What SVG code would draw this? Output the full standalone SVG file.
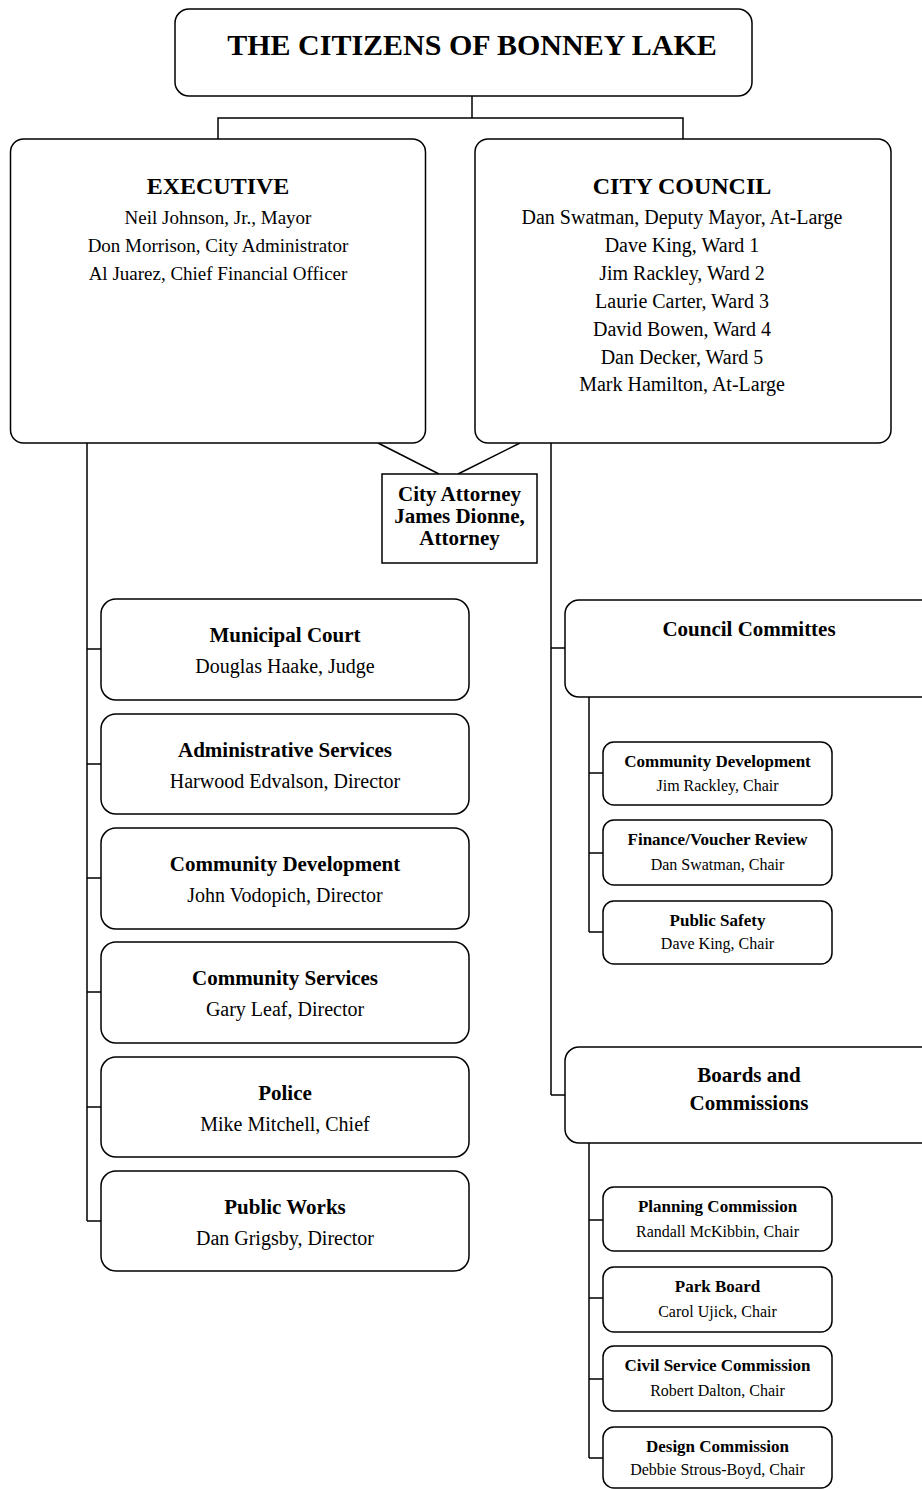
<svg xmlns="http://www.w3.org/2000/svg" width="922" height="1489" viewBox="0 0 922 1489" font-family="'Liberation Serif', 'Times New Roman', serif">
<style>
.box{fill:#fff;stroke:#000;stroke-width:1.5}
.ln{fill:none;stroke:#000;stroke-width:1.5}
text{font-family:"Liberation Serif","Times New Roman",serif;fill:#000;text-anchor:middle;font-weight:normal}
.t0{font-size:30px;font-weight:bold}
.hd{font-size:24px;font-weight:bold}
.ex{font-size:19px}
.cc{font-size:20px}
.dt{font-size:21px;font-weight:bold}
.ds{font-size:20px}
.st{font-size:17px;font-weight:bold}
.ss{font-size:16px}
.at{font-size:21px;font-weight:bold}
</style>
<rect width="922" height="1489" fill="#fff"/>
<g id="connectors">
<path class="ln" d="M472 96V118M218 139V118H683V139"/>
<path class="ln" d="M378 443L439 474M520 443L458 474"/>
<path class="ln" d="M87 443V1221M87 649H101M87 764H101M87 878H101M87 992H101M87 1107H101M87 1221H101"/>
<path class="ln" d="M551 443V1095M551 648H565M551 1095H565"/>
<path class="ln" d="M589 697V932M589 773H603M589 853H603M589 932H603"/>
<path class="ln" d="M589 1143V1458M589 1220H603M589 1298H603M589 1379H603M589 1458H603"/>
</g>
<g id="citizens">
<rect class="box" x="175" y="9" width="577" height="87" rx="14"/>
<text class="t0" x="472" y="55">THE CITIZENS OF BONNEY LAKE</text>
</g>
<g id="executive">
<rect class="box" x="10.5" y="139" width="415" height="304" rx="13"/>
<text class="hd" x="218" y="194">EXECUTIVE</text>
<text class="ex" x="218" y="224">Neil Johnson, Jr., Mayor</text>
<text class="ex" x="218" y="252">Don Morrison, City Administrator</text>
<text class="ex" x="218" y="280">Al Juarez, Chief Financial Officer</text>
</g>
<g id="council">
<rect class="box" x="475" y="139" width="416" height="304" rx="13"/>
<text class="hd" x="682" y="194">CITY COUNCIL</text>
<text class="cc" x="682" y="224">Dan Swatman, Deputy Mayor, At-Large</text>
<text class="cc" x="682" y="252">Dave King, Ward 1</text>
<text class="cc" x="682" y="280">Jim Rackley, Ward 2</text>
<text class="cc" x="682" y="308">Laurie Carter, Ward 3</text>
<text class="cc" x="682" y="336">David Bowen, Ward 4</text>
<text class="cc" x="682" y="364">Dan Decker, Ward 5</text>
<text class="cc" x="682" y="391">Mark Hamilton, At-Large</text>
</g>
<g id="attorney">
<rect class="box" x="382" y="474" width="155" height="89"/>
<text class="at" x="459.5" y="501">City Attorney</text>
<text class="at" x="459.5" y="523">James Dionne,</text>
<text class="at" x="459.5" y="545">Attorney</text>
</g>
<g id="municipal-court">
<rect class="box" x="101" y="599" width="368" height="101" rx="15"/>
<text class="dt" x="285" y="642">Municipal Court</text>
<text class="ds" x="285" y="673">Douglas Haake, Judge</text>
</g>
<g id="admin-services">
<rect class="box" x="101" y="714" width="368" height="100" rx="15"/>
<text class="dt" x="285" y="757">Administrative Services</text>
<text class="ds" x="285" y="788">Harwood Edvalson, Director</text>
</g>
<g id="community-development">
<rect class="box" x="101" y="828" width="368" height="101" rx="15"/>
<text class="dt" x="285" y="871">Community Development</text>
<text class="ds" x="285" y="902">John Vodopich, Director</text>
</g>
<g id="community-services">
<rect class="box" x="101" y="942" width="368" height="101" rx="15"/>
<text class="dt" x="285" y="985">Community Services</text>
<text class="ds" x="285" y="1016">Gary Leaf, Director</text>
</g>
<g id="police">
<rect class="box" x="101" y="1057" width="368" height="100" rx="15"/>
<text class="dt" x="285" y="1100">Police</text>
<text class="ds" x="285" y="1131">Mike Mitchell, Chief</text>
</g>
<g id="public-works">
<rect class="box" x="101" y="1171" width="368" height="100" rx="15"/>
<text class="dt" x="285" y="1214">Public Works</text>
<text class="ds" x="285" y="1245">Dan Grigsby, Director</text>
</g>
<g id="council-committees">
<rect class="box" x="565" y="600" width="380" height="97" rx="14"/>
<text class="dt" x="749" y="636">Council Committes</text>
</g>
<g id="cc-community-development">
<rect class="box" x="603" y="742" width="229" height="63" rx="11"/>
<text class="st" x="717.5" y="767">Community Development</text>
<text class="ss" x="717.5" y="791">Jim Rackley, Chair</text>
</g>
<g id="cc-finance">
<rect class="box" x="603" y="820" width="229" height="65" rx="11"/>
<text class="st" x="717.5" y="845">Finance/Voucher Review</text>
<text class="ss" x="717.5" y="870">Dan Swatman, Chair</text>
</g>
<g id="cc-public-safety">
<rect class="box" x="603" y="901" width="229" height="63" rx="11"/>
<text class="st" x="717.5" y="926">Public Safety</text>
<text class="ss" x="717.5" y="949">Dave King, Chair</text>
</g>
<g id="boards-commissions">
<rect class="box" x="565" y="1047" width="380" height="96" rx="14"/>
<text class="dt" x="749" y="1082">Boards and</text>
<text class="dt" x="749" y="1110">Commissions</text>
</g>
<g id="bc-planning">
<rect class="box" x="603" y="1187" width="229" height="64" rx="11"/>
<text class="st" x="717.5" y="1212">Planning Commission</text>
<text class="ss" x="717.5" y="1237">Randall McKibbin, Chair</text>
</g>
<g id="bc-park">
<rect class="box" x="603" y="1267" width="229" height="65" rx="11"/>
<text class="st" x="717.5" y="1292">Park Board</text>
<text class="ss" x="717.5" y="1317">Carol Ujick, Chair</text>
</g>
<g id="bc-civil">
<rect class="box" x="603" y="1346" width="229" height="65" rx="11"/>
<text class="st" x="717.5" y="1371">Civil Service Commission</text>
<text class="ss" x="717.5" y="1396">Robert Dalton, Chair</text>
</g>
<g id="bc-design">
<rect class="box" x="603" y="1427" width="229" height="61" rx="11"/>
<text class="st" x="717.5" y="1452">Design Commission</text>
<text class="ss" x="717.5" y="1475">Debbie Strous-Boyd, Chair</text>
</g>
</svg>
